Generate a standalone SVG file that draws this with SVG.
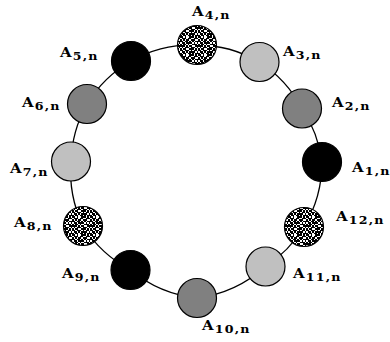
<svg xmlns="http://www.w3.org/2000/svg" width="390" height="342" viewBox="0 0 390 342">
<style>
.ring{fill:none;stroke:#000;stroke-width:1.3}
.node{stroke:#000;stroke-width:1.2}
.blk{fill:#000}
.dg{fill:#808080}
.lg{fill:#c0c0c0}
.dot{fill:url(#noise)}
.lbl{font-family:"DejaVu Serif","Liberation Serif",serif;font-weight:bold;font-size:12.5px;fill:#000;letter-spacing:1px}
.sub{font-size:10.5px}
</style>
<defs>
<pattern id="noise" patternUnits="userSpaceOnUse" width="18" height="18">
<rect width="18" height="18" fill="#fff"/>
<path fill="#000" shape-rendering="crispEdges" d="M0 0h3v1.5h-3zM4.5 0h1.5v1.5h-1.5zM9 0h4.5v1.5h-4.5zM15 0h1.5v1.5h-1.5zM1.5 1.5h4.5v1.5h-4.5zM7.5 1.5h3v1.5h-3zM13.5 1.5h4.5v1.5h-4.5zM0 3h1.5v1.5h-1.5zM3 3h1.5v1.5h-1.5zM6 3h3v1.5h-3zM10.5 3h4.5v1.5h-4.5zM0 4.5h3v1.5h-3zM4.5 4.5h3v1.5h-3zM9 4.5h1.5v1.5h-1.5zM12 4.5h1.5v1.5h-1.5zM15 4.5h3v1.5h-3zM1.5 6h3v1.5h-3zM6 6h6v1.5h-6zM13.5 6h1.5v1.5h-1.5zM16.5 6h1.5v1.5h-1.5zM0 7.5h1.5v1.5h-1.5zM3 7.5h3v1.5h-3zM7.5 7.5h1.5v1.5h-1.5zM12 7.5h4.5v1.5h-4.5zM0 9h4.5v1.5h-4.5zM6 9h1.5v1.5h-1.5zM9 9h3v1.5h-3zM15 9h3v1.5h-3zM1.5 10.5h1.5v1.5h-1.5zM4.5 10.5h4.5v1.5h-4.5zM10.5 10.5h4.5v1.5h-4.5zM16.5 10.5h1.5v1.5h-1.5zM0 12h1.5v1.5h-1.5zM3 12h3v1.5h-3zM9 12h4.5v1.5h-4.5zM15 12h1.5v1.5h-1.5zM0 13.5h3v1.5h-3zM4.5 13.5h4.5v1.5h-4.5zM10.5 13.5h1.5v1.5h-1.5zM13.5 13.5h3v1.5h-3zM1.5 15h3v1.5h-3zM6 15h1.5v1.5h-1.5zM9 15h6v1.5h-6zM16.5 15h1.5v1.5h-1.5zM0 16.5h1.5v1.5h-1.5zM3 16.5h3v1.5h-3zM7.5 16.5h3v1.5h-3zM12 16.5h1.5v1.5h-1.5zM15 16.5h3v1.5h-3z"/>
</pattern>
</defs>
<g id="connectors">
<path class="ring" d="M322 162A126 126 0 0 0 302 108.5"/>
<path class="ring" d="M302 108.5A126 126 0 0 0 259.5 62"/>
<path class="ring" d="M259.5 62A126 126 0 0 0 197 45"/>
<path class="ring" d="M197 45A126 126 0 0 0 131 61"/>
<path class="ring" d="M131 61A126 126 0 0 0 87 104"/>
<path class="ring" d="M87 104A126 126 0 0 0 71 161.5"/>
<path class="ring" d="M71 161.5A126 126 0 0 0 83 226"/>
<path class="ring" d="M83 226A126 126 0 0 0 130.5 270"/>
<path class="ring" d="M130.5 270A126 126 0 0 0 197 298"/>
<path class="ring" d="M197 298A126 126 0 0 0 265.5 266.5"/>
<path class="ring" d="M265.5 266.5A126 126 0 0 0 304 227"/>
<path class="ring" d="M304 227A126 126 0 0 0 322 162"/>
</g>
<g id="A1"><circle class="node blk" cx="322" cy="162" r="19.5"/><text class="lbl" transform="translate(352,172) scale(1.2,1)">A<tspan class="sub" dy="3">1,n</tspan></text></g>
<g id="A2"><circle class="node dg" cx="302" cy="108.5" r="19.5"/><text class="lbl" transform="translate(332,107) scale(1.2,1)">A<tspan class="sub" dy="3">2,n</tspan></text></g>
<g id="A3"><circle class="node lg" cx="259.5" cy="62" r="19.5"/><text class="lbl" transform="translate(283,56) scale(1.2,1)">A<tspan class="sub" dy="3">3,n</tspan></text></g>
<g id="A4"><circle class="node dot" cx="197" cy="45" r="19.5"/><text class="lbl" transform="translate(192,16) scale(1.2,1)">A<tspan class="sub" dy="3">4,n</tspan></text></g>
<g id="A5"><circle class="node blk" cx="131" cy="61" r="19.5"/><text class="lbl" transform="translate(60,57) scale(1.2,1)">A<tspan class="sub" dy="3">5,n</tspan></text></g>
<g id="A6"><circle class="node dg" cx="87" cy="104" r="19.5"/><text class="lbl" transform="translate(22,107) scale(1.2,1)">A<tspan class="sub" dy="3">6,n</tspan></text></g>
<g id="A7"><circle class="node lg" cx="71" cy="161.5" r="19.5"/><text class="lbl" transform="translate(10,173) scale(1.2,1)">A<tspan class="sub" dy="3">7,n</tspan></text></g>
<g id="A8"><circle class="node dot" cx="83" cy="226" r="19.5"/><text class="lbl" transform="translate(14,227) scale(1.2,1)">A<tspan class="sub" dy="3">8,n</tspan></text></g>
<g id="A9"><circle class="node blk" cx="130.5" cy="270" r="19.5"/><text class="lbl" transform="translate(62,278) scale(1.2,1)">A<tspan class="sub" dy="3">9,n</tspan></text></g>
<g id="A10"><circle class="node dg" cx="197" cy="298" r="19.5"/><text class="lbl" transform="translate(202,330) scale(1.2,1)">A<tspan class="sub" dy="3">10,n</tspan></text></g>
<g id="A11"><circle class="node lg" cx="265.5" cy="266.5" r="19.5"/><text class="lbl" transform="translate(293,278) scale(1.2,1)">A<tspan class="sub" dy="3">11,n</tspan></text></g>
<g id="A12"><circle class="node dot" cx="304" cy="227" r="19.5"/><text class="lbl" transform="translate(336,221) scale(1.2,1)">A<tspan class="sub" dy="3">12,n</tspan></text></g>
</svg>
